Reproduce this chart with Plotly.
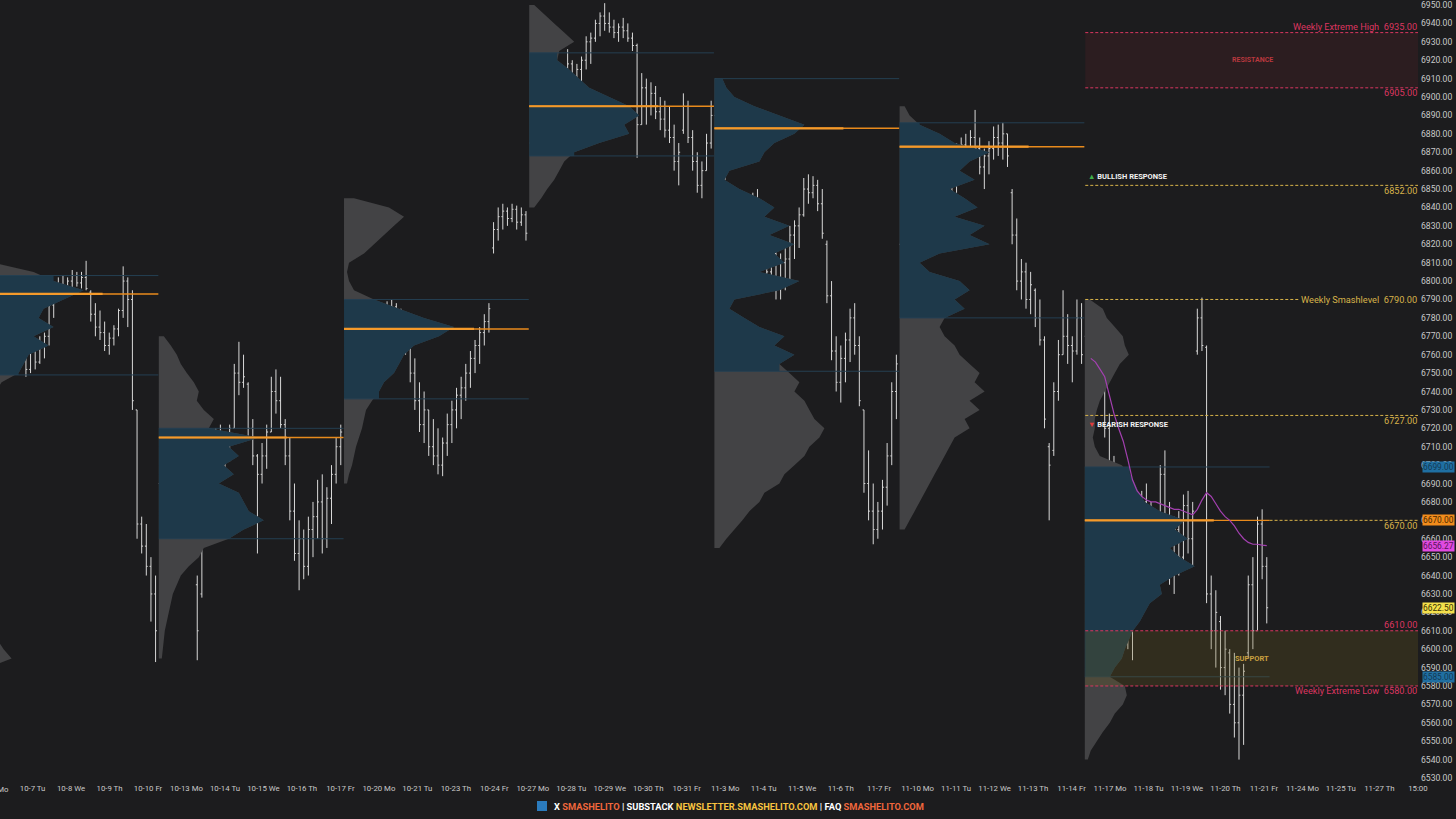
import plotly.graph_objects as go

BG = "#1c1c1e"

# ---------------- price bars (40 bars per weekly session, first visible bar index 6) -------------
FIRST_BAR = 6
open_ = [
    6792,6795,6791,6789,6780,6758,6752,6763,6756,6766,6770,6787,6795,6798,6797,6800,6803,6799,6802,6794,
    6782,6775,6772,6765,6769,6774,6784,6800,6790,6730,6668,6656,6645,6630,
    6690,6675,6692,6680,6700,6705,6708,6695,6635,6630,6670,6685,6700,6712,6710,6705,6720,6750,6745,6744,
    6720,6705,6695,6705,6718,6740,6735,6722,6705,6675,6652,6660,6645,6665,6672,6680,6660,6682,6695,6710,
    6740,6765,6770,6774,6778,6780,6776,6782,6778,6784,6780,6786,6777,6772,6765,6750,6735,6722,6730,6710,
    6705,6700,6712,6722,6730,6738,6742,6750,6758,6765,6772,6778,6818,6828,6835,6838,6834,6839,6832,6836,
    6875,6884,6890,6886,6892,6894,6896,6898,6900,6918,6910,6915,6920,6930,6932,6940,6944,6940,6938,6935,
    6938,6936,6932,6928,6885,6905,6895,6902,6892,6888,6882,6878,6865,6882,6895,6878,6865,6852,6860,6875,
    6890,6878,6860,6875,6882,6880,6888,6884,6845,6820,6835,6815,6805,6815,6798,6810,6812,6825,6830,6836,
    6850,6848,6852,6842,6820,6792,6762,6745,6758,6768,6780,6765,6730,6690,6675,6665,6675,6688,6705,6740,
    6820,6815,6805,6800,6818,6835,6848,6855,6852,6840,6845,6838,6856,6870,6874,6872,6878,6872,6862,6868,
    6872,6878,6875,6880,6848,6825,6800,6805,6790,6795,6780,6768,6710,6708,6740,6760,6770,6765,6762,6780,
    6770,6760,6750,6760,6745,6720,6695,6680,6665,6630,6615,6630,6655,6680,6660,6650,6670,6695,6665,6640,
    6665,6650,6678,6660,6762,6780,6764,6630,6610,6615,6590,6598,6570,6560,6575,6598,6635,6610,6668,6645,
]
high = [
    6797,6798,6796,6792,6780,6770,6768,6766,6770,6772,6790,6798,6802,6803,6802,6806,6805,6805,6811,6795,
    6788,6784,6778,6772,6776,6785,6808,6802,6795,6730,6672,6668,6650,6640,
    6697,6700,6695,6705,6712,6714,6710,6705,6640,6675,6690,6705,6720,6722,6718,6722,6755,6767,6760,6745,
    6725,6706,6712,6722,6748,6752,6748,6725,6715,6690,6670,6665,6672,6680,6692,6695,6688,6700,6715,6722,
    6770,6775,6778,6782,6786,6785,6787,6786,6788,6789,6790,6788,6785,6782,6770,6758,6745,6740,6730,6725,
    6720,6715,6728,6735,6742,6748,6755,6762,6768,6775,6782,6788,6832,6840,6842,6840,6842,6841,6840,6838,
    6888,6893,6894,6895,6897,6899,6900,6902,6926,6920,6918,6922,6933,6935,6942,6946,6951,6946,6942,6940,
    6943,6940,6935,6929,6913,6910,6908,6906,6900,6898,6895,6885,6875,6902,6898,6882,6870,6865,6880,6898,
    6910,6886,6880,6888,6887,6893,6894,6890,6848,6850,6838,6830,6822,6818,6815,6818,6830,6833,6840,6856,
    6858,6857,6855,6850,6822,6800,6770,6765,6772,6785,6788,6770,6730,6708,6690,6680,6692,6712,6745,6760,
    6836,6830,6812,6820,6840,6852,6860,6866,6858,6850,6852,6860,6875,6878,6880,6882,6893,6878,6872,6876,
    6884,6885,6886,6880,6850,6834,6812,6810,6805,6796,6790,6770,6712,6745,6768,6795,6782,6770,6790,6788,
    6790,6770,6768,6768,6755,6728,6705,6698,6690,6660,6640,6660,6686,6690,6680,6675,6700,6708,6680,6672,
    6675,6684,6686,6680,6785,6791,6765,6640,6632,6618,6610,6600,6598,6590,6592,6640,6650,6672,6676,6650,
]
low = [
    6788,6790,6787,6780,6755,6748,6750,6752,6755,6758,6765,6780,6790,6793,6792,6795,6797,6796,6795,6778,
    6770,6768,6762,6760,6765,6770,6780,6775,6730,6660,6652,6640,6615,6593,
    6668,6663,6665,6680,6688,6695,6690,6685,6594,6628,6660,6675,6695,6700,6698,6702,6720,6738,6742,6715,
    6700,6652,6690,6698,6718,6728,6720,6700,6670,6648,6632,6638,6640,6650,6660,6652,6655,6668,6690,6700,
    6735,6742,6750,6760,6768,6770,6772,6773,6775,6774,6776,6774,6768,6760,6745,6730,6718,6712,6705,6700,
    6695,6694,6705,6712,6720,6725,6735,6742,6750,6755,6765,6772,6815,6822,6828,6830,6832,6828,6830,6822,
    6870,6877,6880,6885,6886,6890,6892,6894,6898,6904,6902,6908,6915,6918,6930,6933,6936,6935,6932,6930,
    6932,6930,6925,6867,6885,6885,6890,6888,6882,6878,6875,6860,6852,6880,6875,6860,6848,6845,6860,6872,
    6872,6850,6855,6870,6873,6876,6878,6877,6795,6815,6810,6800,6795,6790,6790,6795,6800,6812,6818,6835,
    6842,6845,6838,6823,6788,6757,6740,6734,6745,6756,6760,6732,6685,6670,6657,6660,6665,6678,6700,6725,
    6812,6800,6792,6798,6815,6830,6840,6850,6835,6832,6834,6836,6848,6862,6866,6868,6870,6858,6850,6858,
    6866,6868,6866,6862,6820,6795,6790,6785,6782,6775,6765,6720,6670,6705,6735,6760,6755,6745,6760,6755,
    6752,6718,6735,6740,6715,6688,6672,6660,6625,6600,6594,6620,6648,6652,6640,6635,6650,6660,6635,6630,
    6640,6648,6652,6645,6760,6762,6625,6600,6590,6578,6575,6565,6552,6540,6548,6595,6600,6610,6638,6614,
]
close = [
    6795,6791,6789,6781,6758,6752,6763,6756,6766,6770,6787,6795,6798,6797,6800,6803,6799,6802,6796,6782,
    6775,6772,6765,6769,6774,6784,6800,6790,6735,6668,6656,6645,6630,6610,
    6675,6692,6680,6700,6705,6708,6695,6690,6610,6670,6685,6700,6712,6710,6705,6720,6750,6745,6748,6720,
    6705,6695,6705,6718,6740,6735,6722,6705,6675,6652,6660,6645,6665,6672,6680,6660,6682,6695,6710,6718,
    6765,6770,6774,6778,6780,6776,6782,6778,6784,6780,6786,6777,6772,6765,6750,6735,6722,6730,6710,6705,
    6700,6712,6722,6730,6738,6742,6750,6758,6765,6772,6778,6785,6828,6835,6838,6834,6839,6832,6836,6826,
    6884,6890,6886,6892,6894,6896,6898,6900,6918,6910,6915,6920,6930,6932,6940,6944,6940,6938,6935,6938,
    6936,6932,6928,6885,6905,6895,6902,6892,6888,6882,6878,6865,6870,6895,6878,6865,6852,6860,6875,6890,
    6878,6860,6875,6882,6880,6888,6884,6880,6820,6835,6815,6805,6815,6798,6810,6812,6825,6830,6836,6850,
    6848,6852,6842,6826,6792,6762,6745,6758,6768,6780,6765,6735,6690,6675,6665,6675,6688,6705,6740,6755,
    6815,6805,6800,6818,6835,6848,6855,6852,6840,6845,6838,6856,6870,6874,6872,6878,6872,6862,6868,6872,
    6878,6875,6880,6868,6825,6800,6805,6790,6798,6780,6768,6725,6700,6740,6760,6770,6765,6762,6780,6760,
    6760,6750,6760,6745,6720,6695,6680,6665,6630,6615,6630,6655,6680,6660,6650,6670,6695,6665,6640,6665,
    6650,6678,6660,6675,6780,6765,6630,6610,6620,6590,6600,6570,6560,6575,6588,6635,6610,6668,6645,6622.5,
]

# VWAP of the current week (bars 241..279)
VWAP_FIRST_BAR = 241
vwap = [6758,6756,6752,6748,6738,6728,6720,6713,6703,6692,6686,6683,6681,6680,6680,6679,6678,6677,
        6676,6676,6675,6674,6673,6676,6681,6685,6683,6679,6675,6672,6670,6667,6663,6660,6658,6657,
        6657,6656.5,6656.27]

# ---------------- weekly volume profiles (5-pt rows, from top price downward) ----------------
prof_top = [6810, 6770, 6845, 6950, 6910, 6895, 6790]
vp_w1 = [20,60,80,110,90,70,65,80,60,75,55,50,45,28,22,20,18,18,16,15,15,14,14,13,13,12,12,12,12,13,
         14,15,16,16,17,18,18,20,20,22,22,24,30,38,15]
vp_w2 = [5,12,18,22,28,35,40,38,45,55,50,100,70,80,65,75,60,80,85,90,105,85,70,45,40,30,22,18,14,12,
         10,8,6,5,4,3]
vp_w3 = [10,45,60,50,40,30,20,5,3,5,10,30,55,80,110,95,70,60,55,50,40,35,28,22,20,18,15,12,10,8,5,3]
vp_w4 = [5,15,25,35,45,30,28,40,50,60,80,100,110,95,100,70,45,35,30,25,18,12,5]
vp_w5 = [8,12,20,40,65,90,80,60,50,45,15,10,25,45,60,50,75,55,80,60,70,45,85,65,20,15,30,45,70,60,
         80,65,75,85,80,90,95,100,110,105,95,90,80,70,65,50,45,35,28,20,12,5]
vp_w6 = [5,10,20,40,55,90,70,60,75,50,65,78,55,85,70,90,40,20,30,60,70,55,65,45,40,45,55,60,70,80,
         75,85,70,80,65,70,55,50,45,40,35,30,25,20,15,10,5]
vp_w7 = [5,18,22,30,38,40,44,35,30,25,20,15,12,10,10,8,10,15,37,45,50,54,60,75,100,90,103,85,95,110,
         90,75,77,65,60,55,48,44,40,37,30,25,40,42,38,30,25,18,12,6,3]
profiles = [vp_w1, vp_w2, vp_w3, vp_w4, vp_w5, vp_w6, vp_w7]
vah = [6803, 6720, 6790, 6924, 6910, 6886, 6699]
val = [6749, 6660, 6736, 6868, 6751, 6780, 6585]
poc = [6793, 6715, 6774, 6895, 6883, 6873, 6670]
poc_vol = [129, 128, 130, 129, 129, 129, 129]

# ---------------- key levels ----------------
resist_hi, resist_lo = 6935, 6905
bullish_level = 6852
smash_level = 6790
bearish_level = 6727
support_hi, support_lo = 6610, 6580
last_price = 6622.50
vwap_last = 6656.27

tick_labels = ["10-6 Mo","10-7 Tu","10-8 We","10-9 Th","10-10 Fr","10-13 Mo","10-14 Tu","10-15 We",
               "10-16 Th","10-17 Fr","10-20 Mo","10-21 Tu","10-23 Th","10-24 Fr","10-27 Mo","10-28 Tu",
               "10-29 We","10-30 Th","10-31 Fr","11-3 Mo","11-4 Tu","11-5 We","11-6 Th","11-7 Fr",
               "11-10 Mo","11-11 Tu","11-12 We","11-13 Th","11-14 Fr","11-17 Mo","11-18 Tu","11-19 We",
               "11-20 Th","11-21 Fr","11-24 Mo","11-25 Tu","11-27 Th","15:00"]

# ---------------- geometry / style ----------------
BARS_PER_WEEK = 40
PX_PER_BAR = 185.2 / 40
PLOT_W, PLOT_H = 1420, 782
X0 = 25 / PX_PER_BAR
X1 = X0 + PLOT_W / PX_PER_BAR
Y_TOP, Y_BOT = 6952.72, 6527.83
X_END = X0 + 1418 / PX_PER_BAR
CUR_START = 6 * BARS_PER_WEEK
TICK0_PX, TICK_STEP_PX = -5.9, 38.48

GRAY_VP = "#434345"
BLUE_VP = "#1e394a"
VA_LINE = "#243f52"
POC_COL = "#e88a1c"
POC_ROW = "#f59a2a"
CRIMSON = "#dc3660"
GOLD = "#d8b34a"
TXT = "#c9c9c9"
FONT = "Roboto, Open Sans, sans-serif"

fig = go.Figure()

def px_to_bar(px):
    return X0 + px / PX_PER_BAR

# volume profiles
for w, widths in enumerate(profiles):
    s = w * BARS_PER_WEEK - 0.3
    prices = [prof_top[w] - 5 * k for k in range(len(widths))]
    xs = [s] + [s + v / PX_PER_BAR for v in widths] + [s]
    ys = [prices[0]] + prices + [prices[-1]]
    fig.add_trace(go.Scatter(x=xs, y=ys, fill="toself", fillcolor=GRAY_VP, mode="none",
                             hoverinfo="skip", showlegend=False))
    inside = [(p, v) for p, v in zip(prices, widths) if val[w] <= p <= vah[w]]
    bx = [s, s + inside[0][1] / PX_PER_BAR] + [s + v / PX_PER_BAR for p, v in inside] + \
         [s + inside[-1][1] / PX_PER_BAR, s]
    by = [vah[w], vah[w]] + [p for p, v in inside] + [val[w], val[w]]
    fig.add_trace(go.Scatter(x=bx, y=by, fill="toself", fillcolor=BLUE_VP, mode="none",
                             hoverinfo="skip", showlegend=False))

# value area edges and POC lines
for w in range(len(profiles)):
    s = w * BARS_PER_WEEK - 0.3
    e = w * BARS_PER_WEEK + BARS_PER_WEEK - 0.4
    for lvl in (vah[w], val[w]):
        fig.add_trace(go.Scatter(x=[s, e], y=[lvl, lvl], mode="lines",
                                 line=dict(color=VA_LINE, width=1), hoverinfo="skip", showlegend=False))
    fig.add_trace(go.Scatter(x=[s, e], y=[poc[w], poc[w]], mode="lines",
                             line=dict(color=POC_COL, width=1.4), hoverinfo="skip", showlegend=False))
    fig.add_trace(go.Scatter(x=[s, s + poc_vol[w] / PX_PER_BAR], y=[poc[w], poc[w]], mode="lines",
                             line=dict(color=POC_ROW, width=2.2), hoverinfo="skip", showlegend=False))

# resistance / support zones
zx0 = CUR_START - 0.2
fig.add_trace(go.Scatter(x=[zx0, X_END, X_END, zx0], y=[resist_lo, resist_lo, resist_hi, resist_hi],
                         fill="toself", fillcolor="rgba(103,38,43,0.22)", mode="none",
                         hoverinfo="skip", showlegend=False))
fig.add_trace(go.Scatter(x=[zx0, X_END, X_END, zx0], y=[support_lo, support_lo, support_hi, support_hi],
                         fill="toself", fillcolor="rgba(112,96,30,0.26)", mode="none",
                         hoverinfo="skip", showlegend=False))

# price bars
bars_x = list(range(FIRST_BAR, FIRST_BAR + len(close)))
fig.add_trace(go.Ohlc(x=bars_x, open=open_, high=high, low=low, close=close,
                      increasing=dict(line=dict(color="#d8d8d8", width=1)),
                      decreasing=dict(line=dict(color="#d8d8d8", width=1)),
                      tickwidth=0.3, hoverinfo="skip", showlegend=False))

# VWAP
fig.add_trace(go.Scatter(x=list(range(VWAP_FIRST_BAR, VWAP_FIRST_BAR + len(vwap))), y=vwap,
                         mode="lines", line=dict(color="#a340b0", width=1.2),
                         hoverinfo="skip", showlegend=False))

# dashed key levels
cur_end = CUR_START + BARS_PER_WEEK - 0.4
level_lines = [(resist_hi, CRIMSON, zx0), (resist_lo, CRIMSON, zx0), (bullish_level, GOLD, zx0),
               (smash_level, GOLD, zx0), (bearish_level, GOLD, zx0), (poc[6], GOLD, cur_end),
               (support_hi, CRIMSON, zx0), (support_lo, CRIMSON, zx0)]
for lvl, col, xs in level_lines:
    fig.add_shape(type="line", xref="x", yref="y", x0=xs, x1=X_END, y0=lvl, y1=lvl,
                  line=dict(color=col, width=1, dash="3px,2px"), layer="above")

ann = []
lab_x = 1419 / PLOT_W
def lvl_label(text, lvl, col, shift, bg=None):
    d = dict(text=text, xref="paper", x=lab_x, xanchor="right", yref="y", y=lvl, yanchor="middle",
             yshift=shift, showarrow=False, font=dict(family=FONT, size=9.2, color=col))
    if bg:
        d["bgcolor"] = bg
        d["borderpad"] = 1
    ann.append(d)

lvl_label(f"Weekly Extreme High&nbsp;&nbsp;{resist_hi:.2f}", resist_hi, CRIMSON, 6)
lvl_label(f"{resist_lo:.2f}", resist_lo, CRIMSON, -5)
lvl_label(f"{bullish_level:.2f}", bullish_level, GOLD, -5)
lvl_label(f"Weekly Smashlevel&nbsp;&nbsp;{smash_level:.2f}", smash_level, GOLD, 0, BG)
lvl_label(f"{bearish_level:.2f}", bearish_level, GOLD, -5)
lvl_label(f"{poc[6]:.2f}", poc[6], GOLD, -5)
lvl_label(f"{support_hi:.2f}", support_hi, CRIMSON, 6)
lvl_label(f"Weekly Extreme Low&nbsp;&nbsp;{support_lo:.2f}", support_lo, CRIMSON, -5)

mid_x = (CUR_START + X_END) / 2
ann.append(dict(text="<b>RESISTANCE</b>", x=mid_x, y=(resist_hi + resist_lo) / 2, xref="x", yref="y",
                showarrow=False, font=dict(family=FONT, size=7, color="#b8383e")))
ann.append(dict(text="<b>SUPPORT</b>", x=mid_x, y=(support_hi + support_lo) / 2, xref="x", yref="y",
                showarrow=False, font=dict(family=FONT, size=7.5, color="#c9a040")))
ann.append(dict(text='<span style="color:#3fae49">▲</span> <b>BULLISH RESPONSE</b>', x=CUR_START, y=bullish_level,
                xref="x", yref="y", xanchor="left", yshift=9, showarrow=False,
                font=dict(family=FONT, size=7.5, color="#f2f2f2")))
ann.append(dict(text='<span style="color:#e23c3c">▼</span> <b>BEARISH RESPONSE</b>', x=CUR_START, y=bearish_level,
                xref="x", yref="y", xanchor="left", yshift=-9, showarrow=False,
                font=dict(family=FONT, size=7.5, color="#f2f2f2")))

# right-axis price flags
axis_x = 1422 / PLOT_W
for lvl, bg, fg in [(vah[6], "#1f6fa2", "#143a55"), (poc[6], "#f28c1c", "#4a2800"),
                    (vwap_last, "#e04ae0", "#5a145a"), (last_price, "#f4e04c", "#3a3200"),
                    (val[6], "#1f6fa2", "#143a55")]:
    ann.append(dict(text=f"{lvl:.2f}", xref="paper", x=axis_x, xanchor="left", yref="y", y=lvl,
                    yanchor="middle", showarrow=False, bgcolor=bg, borderpad=0,
                    font=dict(family=FONT, size=8.4, color=fg)))

# first (cut) date label
ann.append(dict(text=tick_labels[0], xref="paper", x=TICK0_PX / PLOT_W, xanchor="center",
                yref="paper", y=-(789 - PLOT_H) / PLOT_H, yanchor="middle", showarrow=False,
                font=dict(family=FONT, size=7.8, color=TXT)))

# footer
footer = ('<b><span style="color:#ffffff">X </span><span style="color:#f0673c">SMASHELITO</span>'
          '<span style="color:#ffffff"> | SUBSTACK </span><span style="color:#f8c440">NEWSLETTER.SMASHELITO.COM</span>'
          '<span style="color:#ffffff"> | FAQ </span><span style="color:#f0673c">SMASHELITO.COM</span></b>')
ann.append(dict(text=footer, xref="paper", x=552 / PLOT_W, xanchor="left", yref="paper",
                y=-(806 - PLOT_H) / PLOT_H, yanchor="middle", showarrow=False,
                font=dict(family=FONT, size=9.3, color="#ffffff")))
fig.add_shape(type="rect", xref="paper", yref="paper", x0=537 / PLOT_W, x1=547 / PLOT_W,
              y0=-(811 - PLOT_H) / PLOT_H, y1=-(801 - PLOT_H) / PLOT_H,
              fillcolor="#2b7bbd", line=dict(width=0))

tickvals = [px_to_bar(TICK0_PX + k * TICK_STEP_PX) for k in range(len(tick_labels))]

fig.update_layout(
    width=1456, height=819, margin=dict(l=0, r=36, t=0, b=37),
    paper_bgcolor=BG, plot_bgcolor=BG, showlegend=False, annotations=ann,
    xaxis=dict(range=[X0, X1], showgrid=False, zeroline=False, showline=False, ticks="",
               tickvals=tickvals[1:], ticktext=tick_labels[1:], tickangle=0,
               tickfont=dict(family=FONT, size=7.8, color=TXT), rangeslider=dict(visible=False),
               fixedrange=True),
    yaxis=dict(range=[Y_BOT, Y_TOP], side="right", showgrid=False, zeroline=False, showline=False,
               ticks="", tickvals=list(range(6530, 6951, 10)), tickformat=".2f",
               tickfont=dict(family=FONT, size=8.6, color=TXT), fixedrange=True),
)

fig.write_html("out.html", config={"displayModeBar": False},
               post_script="document.body.style.margin='0';document.body.style.background='%s';" % BG)
